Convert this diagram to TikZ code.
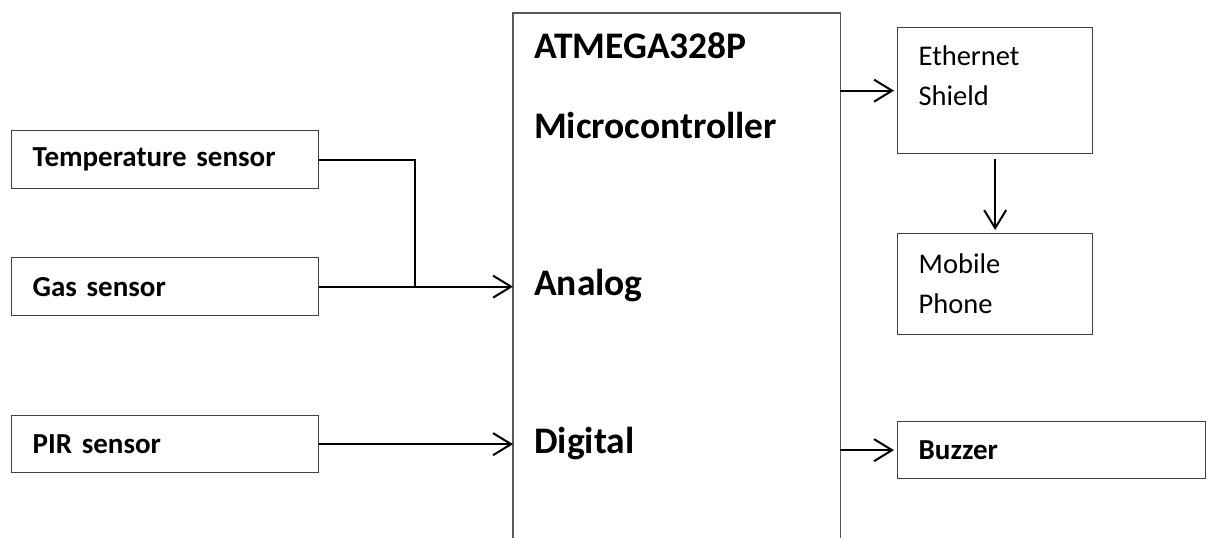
\documentclass[tikz,border=0pt]{standalone}
\usepackage{fontspec}
\setmainfont{Carlito}
\usetikzlibrary{arrows.meta,positioning}
\colorlet{BoxLine}{black!75}
\colorlet{McuLine}{black!65}
\newcommand{\SmallBold}{\fontsize{29}{34}\selectfont\bfseries}
\newcommand{\BigBold}{\fontsize{37.5}{44}\selectfont\bfseries}
\newcommand{\PlainText}{\fontsize{28.5}{40}\selectfont}
\tikzset{
  blockbox/.style={draw=BoxLine, line width=1.3pt, anchor=north west,
    inner xsep=21pt, inner ysep=0pt, align=left},
  sensorbox/.style={blockbox, text width=265pt, minimum height=58pt, font=\SmallBold},
  outbox/.style={blockbox, text width=153pt, font=\PlainText},
  mcutext/.style={anchor=base west, inner sep=0pt, font=\BigBold},
  wire/.style={line width=2pt},
  feed/.style={wire, -{Straight Barb[length=18pt,width=22pt,line width=2pt]}}
}

\begin{document}
\begin{tikzpicture}[x=1pt, y=-1pt]
  \useasboundingbox (0,0) rectangle (1211,538);

  % input side
  \node[sensorbox] (temp) at (11,130) {Temperature sensor};
  \node[sensorbox] (gas) at (11,257) {Gas sensor};
  \node[sensorbox, minimum height=57pt] (pir) at (11,415) {PIR sensor};

  % controller
  \node[anchor=north west, minimum width=327pt, minimum height=525pt, inner sep=0pt] (mcu) at (513,13) {};
  \draw[McuLine, line width=1.6pt] (mcu.south west) |- (mcu.north east) -- (mcu.south east);
  \node[mcutext] (atm) at (534,58) {ATMEGA328P};
  \node[mcutext] (mcname) at (534,138) {Microcontroller};
  \node[mcutext] (ana) at (534,295) {Analog};
  \node[mcutext] (dig) at (534,453) {Digital};

  % output side
  \node[outbox, minimum height=126pt] (eth) at (897,27) {Ethernet\\Shield\\[-10pt]\mbox{}};
  \node[outbox, minimum height=101pt] (mob) at (897,233) {Mobile\\Phone};
  \node[blockbox, text width=266pt, minimum height=57pt, font=\SmallBold] (buz) at (897,421) {Buzzer};

  % connectors
  \coordinate (tj) at (415,0);
  \draw[wire] (temp.east) -| (tj |- gas.east);
  \draw[feed] (gas.east) -- (gas.east -| mcu.west);
  \draw[feed] (pir.east) -- (pir.east -| mcu.west);
  \draw[feed, shorten >=3pt] (eth.west -| mcu.east) -- (eth.west);
  \draw[feed, shorten <=5pt, shorten >=3pt] (eth.south) -- (mob.north);
  \draw[feed, shorten >=3pt] (buz.west -| mcu.east) -- (buz.west);
\end{tikzpicture}
\end{document}
